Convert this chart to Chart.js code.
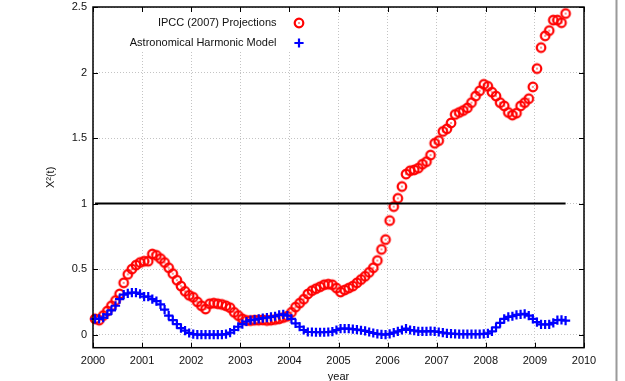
<!DOCTYPE html>
<html><head><meta charset="utf-8">
<script src="https://cdn.jsdelivr.net/npm/chart.js@4.4.1/dist/chart.umd.min.js"></script>
<style>
html,body{margin:0;padding:0;background:#fff;overflow:hidden;}
#wrap{position:relative;width:625px;height:381px;}
#edge{position:absolute;left:615px;top:0;width:3px;height:381px;background:linear-gradient(to right,#e4e4e4,#9a9a9a,#e4e4e4);}
</style></head><body>
<div id="wrap"><canvas id="c" width="625" height="381"></canvas><div id="edge"></div></div>
<script>
// ---- data (monthly samples starting Jan 2000) ----
const ipccLabel = 'IPCC (2007) Projections';
const harmonicLabel = 'Astronomical Harmonic Model';
const startYear = 2000;
const ipcc = [
  0.12, 0.11, 0.145, 0.18, 0.22, 0.26, 0.31, 0.395, 0.46, 0.50, 0.53, 0.55,
  0.56, 0.56, 0.615, 0.605, 0.58, 0.55, 0.51, 0.465, 0.415, 0.37, 0.33, 0.30,
  0.285, 0.25, 0.22, 0.195, 0.235, 0.24, 0.235, 0.23, 0.22, 0.205, 0.17, 0.145,
  0.12, 0.108, 0.107, 0.11, 0.11, 0.112, 0.108, 0.11, 0.115, 0.12, 0.13, 0.14,
  0.17, 0.21, 0.24, 0.27, 0.31, 0.335, 0.35, 0.365, 0.38, 0.385, 0.38, 0.355,
  0.325, 0.34, 0.355, 0.37, 0.395, 0.42, 0.445, 0.475, 0.51, 0.565, 0.65, 0.725,
  0.87, 0.977, 1.04, 1.13, 1.225, 1.25, 1.257, 1.27, 1.30, 1.32, 1.37, 1.46,
  1.48, 1.55, 1.57, 1.615, 1.68, 1.695, 1.71, 1.73, 1.77, 1.82, 1.86, 1.91,
  1.895, 1.85, 1.82, 1.77, 1.745, 1.695, 1.675, 1.69, 1.745, 1.77, 1.80, 1.89,
  2.03, 2.19, 2.28, 2.32, 2.40, 2.40, 2.38, 2.45
];
const harmonic = [
  0.12, 0.12, 0.13, 0.155, 0.185, 0.22, 0.27, 0.305, 0.315, 0.32, 0.32, 0.31,
  0.29, 0.29, 0.27, 0.255, 0.23, 0.19, 0.145, 0.11, 0.08, 0.05, 0.03, 0.012,
  0.003, 0, 0, 0, 0, 0, 0, 0, 0.003, 0.015, 0.035, 0.06,
  0.08, 0.10, 0.11, 0.115, 0.12, 0.125, 0.13, 0.135, 0.14, 0.15, 0.155, 0.145,
  0.12, 0.085, 0.06, 0.035, 0.02, 0.02, 0.018, 0.018, 0.018, 0.02, 0.022, 0.035,
  0.045, 0.045, 0.045, 0.042, 0.038, 0.033, 0.028, 0.02, 0.012, 0.005, 0.002, 0,
  0.005, 0.015, 0.025, 0.035, 0.045, 0.035, 0.03, 0.025, 0.025, 0.025, 0.027, 0.025,
  0.02, 0.015, 0.01, 0.008, 0.005, 0.003, 0.003, 0.003, 0.003, 0.003, 0.004, 0.006,
  0.01, 0.025, 0.055, 0.09, 0.12, 0.135, 0.14, 0.15, 0.155, 0.158, 0.145, 0.12,
  0.095, 0.078, 0.077, 0.078, 0.09, 0.11, 0.112, 0.107
];
const thresholdValue = 1;
const xTicks = [2000, 2001, 2002, 2003, 2004, 2005, 2006, 2007, 2008, 2009, 2010];
const yTicks = [0, 0.5, 1, 1.5, 2, 2.5];
const xTitle = 'year';
const yTitle = 'X\u00B2(t)';

// ---- build ----
const monthX = i => startYear + (i + 0.5) / 12;
const ipccPts = ipcc.map((v, i) => ({x: monthX(i), y: v}));
const harmPts = harmonic.map((v, i) => ({x: monthX(i), y: v}));
const thresholdPts = [
  {x: monthX(0), y: thresholdValue},
  {x: monthX(ipcc.length - 1), y: thresholdValue}
];

function ring(color) {
  const c = document.createElement('canvas');
  c.width = 14; c.height = 14;
  const g = c.getContext('2d');
  g.strokeStyle = color; g.lineWidth = 2.2;
  g.beginPath(); g.arc(7, 7, 4.3, 0, Math.PI * 2); g.stroke();
  g.fillStyle = color;
  g.beginPath(); g.arc(7, 7, 0.8, 0, Math.PI * 2); g.fill();
  return c;
}
const ringRed = ring('#ff0000');

Chart.defaults.font.family = "'Liberation Sans', Arial, sans-serif";
Chart.defaults.font.size = 11;
Chart.defaults.color = '#111';

const frame = {
  id: 'frame',
  afterDraw(chart) {
    const {ctx, chartArea: a, scales: {x, y}} = chart;
    ctx.save();
    ctx.strokeStyle = '#000';
    ctx.lineWidth = 1;
    const seg = (x1, y1, x2, y2) => { ctx.beginPath(); ctx.moveTo(x1, y1); ctx.lineTo(x2, y2); ctx.stroke(); };
    x.ticks.forEach(t => {
      const px = Math.round(x.getPixelForValue(t.value)) + 0.5;
      seg(px, a.bottom, px, a.bottom - 5);
      seg(px, a.top, px, a.top + 5);
    });
    y.ticks.forEach(t => {
      const py = Math.round(y.getPixelForValue(t.value)) + 0.5;
      seg(a.left, py, a.left + 5, py);
      seg(a.right, py, a.right - 5, py);
    });
    ctx.lineWidth = 1.5;
    ctx.strokeRect(a.left, a.top, a.right - a.left, a.bottom - a.top);
    ctx.restore();
  }
};

const keyBox = {
  id: 'keyBox',
  beforeDatasetsDraw(chart, args, opts) {
    const {ctx, chartArea: a} = chart;
    ctx.save();
    ctx.fillStyle = '#fff';
    ctx.fillRect(a.left + 1, a.top + 1, opts.markerX + 14 - a.left, opts.rows[opts.rows.length - 1] + 8 - a.top);
    ctx.font = "11px 'Liberation Sans', Arial, sans-serif";
    ctx.textAlign = 'right';
    ctx.textBaseline = 'middle';
    opts.items.forEach((idx, r) => {
      const ds = chart.data.datasets[idx];
      const yy = opts.rows[r];
      ctx.fillStyle = '#111';
      ctx.fillText(ds.label, opts.textRight, yy);
      ctx.strokeStyle = ds.borderColor;
      ctx.fillStyle = ds.backgroundColor;
      ctx.lineWidth = ds.borderWidth;
      Chart.helpers.drawPoint(ctx, {
        pointStyle: ds.pointStyle, radius: ds.pointRadius, rotation: 0, borderWidth: ds.borderWidth
      }, opts.markerX, yy);
    });
    ctx.restore();
  }
};

new Chart(document.getElementById('c'), {
  type: 'scatter',
  data: {
    datasets: [
      {
        label: ipccLabel, data: ipccPts, showLine: false,
        pointStyle: ringRed, pointRadius: 5, borderColor: '#ff0000', backgroundColor: 'rgba(0,0,0,0)',
        borderWidth: 2, order: 3, clip: false
      },
      {
        label: harmonicLabel, data: harmPts, showLine: false,
        pointStyle: 'cross', pointRadius: 4.6, borderColor: '#0000ff', backgroundColor: '#0000ff',
        borderWidth: 2.2, order: 2, clip: false
      },
      {
        label: 'threshold', data: thresholdPts, showLine: true, type: 'line',
        pointRadius: 0, borderColor: '#000', borderWidth: 2, order: 1, clip: false
      }
    ]
  },
  options: {
    responsive: false,
    animation: false,
    events: [],
    layout: {padding: {left: 0, right: 41, top: 1, bottom: 0}},
    plugins: {
      legend: {display: false},
      tooltip: {enabled: false},
      keyBox: {items: [0, 1], rows: [23, 43], textRight: 276.5, markerX: 299}
    },
    scales: {
      x: {
        type: 'linear', min: 2000, max: 2010,
        afterBuildTicks: s => { s.ticks = xTicks.map(v => ({value: v})); },
        afterFit: s => { s.height = 33.3; s.paddingLeft = 0; s.paddingRight = 0; },
        ticks: {padding: 7, callback: v => String(v), color: '#111', autoSkip: false, maxRotation: 0},
        grid: {color: '#c4c4c4', lineWidth: 1, drawTicks: false},
        border: {display: false, dash: [1, 2]},
        title: {display: true, text: xTitle, color: '#111', font: {size: 11}, padding: {top: 0, bottom: -2.6}}
      },
      y: {
        type: 'linear', min: -0.1, max: 2.5,
        afterBuildTicks: s => { s.ticks = yTicks.map(v => ({value: v})); },
        afterFit: s => { s.width = 93; s.paddingTop = 0; s.paddingBottom = 0; },
        ticks: {padding: 6, callback: v => String(v), color: '#111'},
        grid: {color: '#c4c4c4', lineWidth: 1, drawTicks: false},
        border: {display: false, dash: [1, 2]},
        title: {display: true, text: yTitle, color: '#111', font: {size: 11}, padding: {top: 44, bottom: 0}}
      }
    }
  },
  plugins: [keyBox, frame]
});
</script>
</body></html>
